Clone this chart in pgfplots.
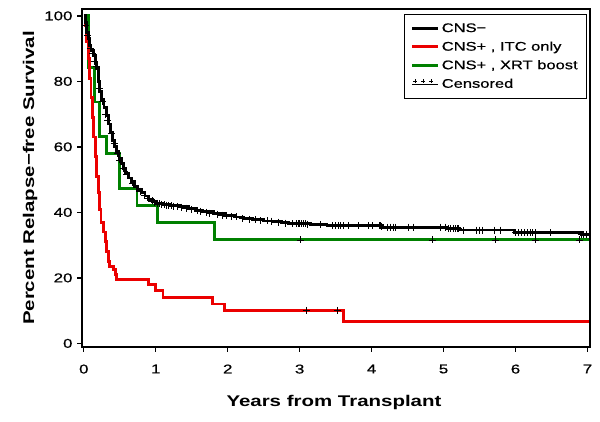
\documentclass[border=0pt]{standalone}
\usepackage{pgfplots}
\pgfplotsset{compat=1.18}
\usepackage{fontspec}
\setmainfont{Liberation Sans}[FakeStretch=1.32, UprightFeatures={FakeBold=0.6}]
\definecolor{kmred}{RGB}{235,0,0}
\definecolor{kmgreen}{RGB}{0,128,0}
\begin{document}
\begin{tikzpicture}[x=1pt,y=1pt]
\useasboundingbox (0,0) rectangle (600,422);
\begin{axis}[
  at={(82pt,75pt)}, anchor=south west,
  scale only axis, width=508pt, height=338pt,
  xmin=-0.025, xmax=7.035, ymin=-1.1, ymax=102.1,
  xtick={0,1,...,7}, ytick={0,20,...,100},
  tick align=outside, xtick pos=bottom, ytick pos=left,
  major tick length=5pt,
  every tick/.style={black, line width=1.4pt},
  axis line style={line width=2.6pt},
  /pgf/number format/assume math mode=true,
  ticklabel style={font=\fontsize{12.8}{14}\selectfont},
  xticklabel style={yshift=-9pt},
  yticklabel style={xshift=-1pt},
  xlabel={\textbf{Years from Transplant}},
  ylabel={\textbf{Percent Relapse−free Survival}},
  label style={font=\fontsize{15.5}{17}\selectfont},
  xlabel style={at={(axis description cs:0.496,-0.163)}, anchor=center},
  ylabel style={at={(axis description cs:-0.102,0.5)}, anchor=center},
  legend style={at={(0.994,0.985)}, anchor=north east, draw=black, line width=0.6pt,
    font=\fontsize{12.5}{14}\selectfont, row sep=4pt, inner xsep=7pt, inner ysep=7pt,
    cells={anchor=west}},
  legend image code/.code={\draw[#1] (0pt,0pt) -- (26pt,0pt);},
]
% CNS+, XRT boost
\addplot[const plot, kmgreen, line width=2.8pt, forget plot] coordinates {
(0,100) (0.06,84.2) (0.15,73.7) (0.22,63.2) (0.32,57.9) (0.50,47.4) (0.74,42.1) (1.02,36.8) (1.82,31.6) (7.02,31.6)};
% CNS+, ITC only
\addplot[const plot, kmred, line width=2.8pt, forget plot] coordinates {
(0,100) (0.02,97) (0.04,92) (0.06,87) (0.08,81) (0.10,75) (0.12,69) (0.14,63) (0.16,57) (0.18,51)
(0.20,46) (0.22,41) (0.24,37) (0.27,34) (0.30,31) (0.32,28) (0.34,25) (0.36,23.5) (0.41,22.5)
(0.44,21) (0.46,19.5) (0.90,18) (1.00,16.2) (1.10,14) (1.79,12) (1.96,10.1) (3.61,6.8) (7.02,6.8)};
% CNS-
\addplot[const plot, black, line width=2.8pt, forget plot] coordinates {
(0,100) (0.02,98) (0.04,95) (0.06,93) (0.08,91) (0.10,89.5) (0.13,88) (0.16,85.5) (0.18,84)
(0.20,80) (0.22,77) (0.25,74.5) (0.28,72) (0.31,69.5) (0.34,67) (0.37,64.5) (0.40,62) (0.43,60)
(0.46,58.5) (0.49,56.5) (0.52,55) (0.55,53.5) (0.58,52) (0.62,50.5) (0.66,49.5) (0.70,48)
(0.75,47) (0.80,46) (0.85,45) (0.90,44) (0.95,43.5) (1.00,42.8) (1.10,42.3) (1.20,42.0)
(1.34,41.7) (1.45,41.2) (1.55,40.6) (1.65,40.2) (1.80,39.6) (1.95,39.1) (2.10,38.6) (2.22,38.1)
(2.35,37.8) (2.50,37.4) (2.64,37.2) (2.75,36.8) (2.85,36.6) (3.15,36.3) (3.38,35.9) (4.15,35.5)
(5.05,35.0) (5.22,34.6) (5.98,33.8) (6.92,33.2) (7.02,33.2)};
% censored marks
\addplot[only marks, mark=+, mark size=3.5pt, black, line width=0.6pt, forget plot] coordinates {
(0.03,97) (0.05,94) (0.09,90) (0.12,88.5) (0.15,86) (0.17,84.5) (0.22,78) (0.26,74) (0.30,70)
(0.33,68) (0.38,64) (0.42,61) (0.47,58) (0.50,56) (0.55,53.5) (0.60,51.5) (0.68,49) (0.78,46.5)
(0.84,45.3) (0.90,44.2) (0.95,43.5) (0.98,43)
(1.02,42.8) (1.05,42.7) (1.08,42.5) (1.12,42.3) (1.15,42.2) (1.18,42.1) (1.22,42) (1.25,41.9)
(1.30,41.8) (1.36,41.6) (1.42,41.3) (1.50,40.9) (1.58,40.5) (1.62,40.4) (1.70,40.1) (1.75,39.8)
(1.85,39.5) (1.92,39.2) (1.98,39.1)
(2.05,38.8) (2.12,38.6) (2.20,38.2) (2.30,37.9) (2.38,37.8) (2.45,37.5) (2.55,37.4) (2.60,37.3)
(2.70,37.0) (2.80,36.7) (2.90,36.6) (2.95,36.6) (2.98,36.6) (3.00,36.6) (3.02,36.6) (3.05,36.6)
(3.08,36.5) (3.10,36.4)
(3.29,36.3) (3.45,35.9) (3.49,35.9) (3.53,35.9) (3.57,35.9) (3.60,35.9) (3.68,35.9) (3.82,35.9)
(3.96,35.9) (4.01,35.9) (4.10,35.9) (4.12,35.9) (4.14,35.7) (4.22,35.5) (4.26,35.5) (4.30,35.5)
(4.33,35.5) (4.51,35.5) (4.58,35.5)
(4.96,35.5) (5.02,35.5) (5.07,35.0) (5.10,35.0) (5.13,35.0) (5.16,35.0) (5.19,35.0) (5.21,35.0)
(5.28,34.6) (5.45,34.6) (5.50,34.6) (5.54,34.6) (5.70,34.6) (5.79,34.6)
(6.00,33.8) (6.04,33.8) (6.08,33.8) (6.12,33.8) (6.16,33.8) (6.20,33.8) (6.24,33.8) (6.28,33.8)
(6.49,33.8) (6.91,33.2) (6.94,33.2) (6.98,33.2)};
\addplot[only marks, mark=+, mark size=3.5pt, black, line width=0.6pt, forget plot] coordinates {
(3.09,10.1) (3.52,10.1) (3.01,31.6) (4.84,31.6) (5.72,31.6) (6.28,31.6) (6.89,31.6)};
\addlegendimage{black, line width=2.8pt}
\addlegendentry{CNS−}
\addlegendimage{kmred, line width=2.8pt}
\addlegendentry{CNS+ , ITC only}
\addlegendimage{kmgreen, line width=2.8pt}
\addlegendentry{CNS+ , XRT boost}
\addlegendimage{legend image code/.code={\path (0pt,0pt) -- (26pt,0pt);
  \draw[black, line width=0.45pt] (1pt,3pt) -- (5pt,3pt) (3pt,1pt) -- (3pt,5pt)
    (9pt,3pt) -- (13pt,3pt) (11pt,1pt) -- (11pt,5pt)
    (17pt,3pt) -- (21pt,3pt) (19pt,1pt) -- (19pt,5pt);}}
\addlegendentry{Censored}
\end{axis}
\end{tikzpicture}
\end{document}
